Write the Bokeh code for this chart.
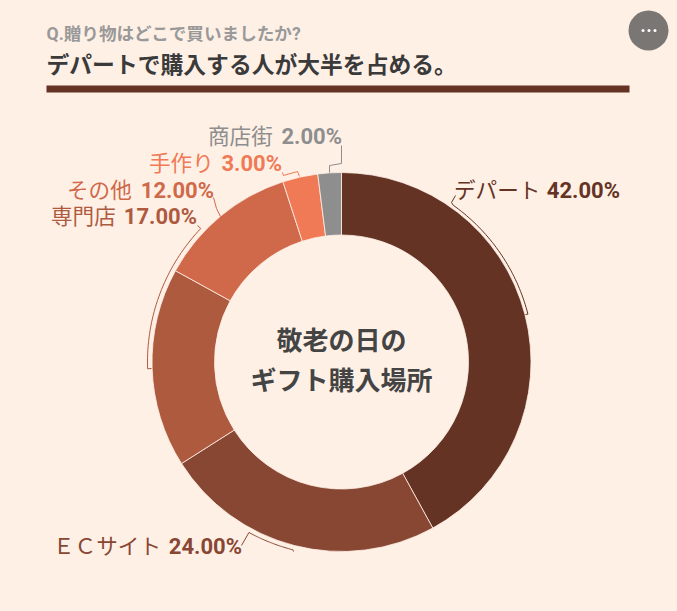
import math
from bokeh.plotting import figure
from bokeh.embed import file_html
from bokeh.resources import INLINE
from bokeh.core.properties import value

categories = ["デパート", "ＥＣサイト", "専門店", "その他", "手作り", "商店街"]
values = [42.0, 24.0, 17.0, 12.0, 3.0, 2.0]
colors = ["#643324", "#884733", "#ae5a3f", "#d0694a", "#f07a55", "#8e8e8e"]
BG = "#fff0e6"
W, H = 669, 603
FONT = "Roboto, 'Noto Sans CJK JP'"

def X(px): return px
def Y(py): return H - py

p = figure(width=W, height=H, x_range=(0, W), y_range=(0, H), output_backend="svg",
           toolbar_location=None, min_border=0, background_fill_color=BG,
           border_fill_color=BG, outline_line_color=None)
p.axis.visible = False
p.grid.visible = False

cx, cy = X(341), Y(361.5)
start = math.pi / 2
total = sum(values)
a0, a1 = [], []
for v in values:
    a0.append(start)
    start -= v / total * 2 * math.pi
    a1.append(start)
p.annular_wedge(x=[cx] * 6, y=[cy] * 6, inner_radius=127, outer_radius=189.5,
                start_angle=a1, end_angle=a0, fill_color=colors,
                line_color=BG, line_width=0.8)

def bracket(deg0, deg1, r, first, last, color):
    xs = [X(q[0]) for q in first]
    ys = [Y(q[1]) for q in first]
    n = 40
    for i in range(n + 1):
        d = math.radians(deg0 + (deg1 - deg0) * i / n)
        xs.append(cx + r * math.sin(d))
        ys.append(cy + r * math.cos(d))
    xs += [X(q[0]) for q in last]
    ys += [Y(q[1]) for q in last]
    p.line(xs, ys, line_color=color, line_width=1)

bracket(35.5, 75.6, 192.5, [(455, 195), (451, 202)], [(525, 314)], colors[0])
bracket(208.5, 194.5, 194, [(241, 545)], [(293, 551)], colors[1])
bracket(268, 313.5, 194, [(151, 368)], [(197, 225)], colors[2])
p.line([X(q) for q in (213, 216, 220)], [Y(q) for q in (197, 208, 216)], line_color=colors[3], line_width=1)
p.line([X(q) for q in (282, 283, 297, 299)], [Y(q) for q in (172, 175, 171, 176)], line_color=colors[4], line_width=1)
p.line([X(q) for q in (341, 341, 329, 329)], [Y(q) for q in (145, 163, 165, 172)], line_color=colors[5], line_width=1)

def txt(px, py, s, color, size, bold=False, align="left", base="middle"):
    p.text([X(px)], [Y(py)], text=[s], text_color=color, text_font=value(FONT),
           text_font_size=f"{size}px", text_font_style="bold" if bold else "normal",
           text_align=align, text_baseline=base)

labels = [(453.5, 619.5, 190), (52.5, 241.5, 546), (50.5, 196.5, 216), (66.5, 213.5, 190), (148.5, 281.5, 163), (207.5, 341.5, 136)]
pct = [f"{v:.2f}%" for v in values]
for i, (l, r, y) in enumerate(labels):
    txt(l, y, categories[i], colors[i], 21.6)
    txt(r, y, pct[i], colors[i], 22, bold=True, align="right")

txt(46, 33, "Q.贈り物はどこで買いましたか?", "#999999", 17.6, bold=True)
txt(46, 65, "デパートで購入する人が大半を占める。", "#3a3a3a", 22.8, bold=True)
p.quad(left=[X(46)], right=[X(629)], bottom=[Y(92)], top=[Y(85)], fill_color=colors[0], line_color=None)
txt(341, 340, "敬老の日の", "#444444", 26, bold=True, align="center")
txt(341, 380, "ギフト購入場所", "#444444", 26, bold=True, align="center")

p.ellipse(x=[X(648)], y=[Y(30)], width=40, height=40, fill_color="#7a7673", line_color=None)
p.scatter(x=[X(q) for q in (642.5, 648.5, 654.5)], y=[Y(30)] * 3, size=3, fill_color="#ffffff", line_color=None)

html = file_html(p, INLINE).replace("</head>", f"<style>html,body{{background:{BG};}}</style></head>")
open("out.html", "w").write(html)
